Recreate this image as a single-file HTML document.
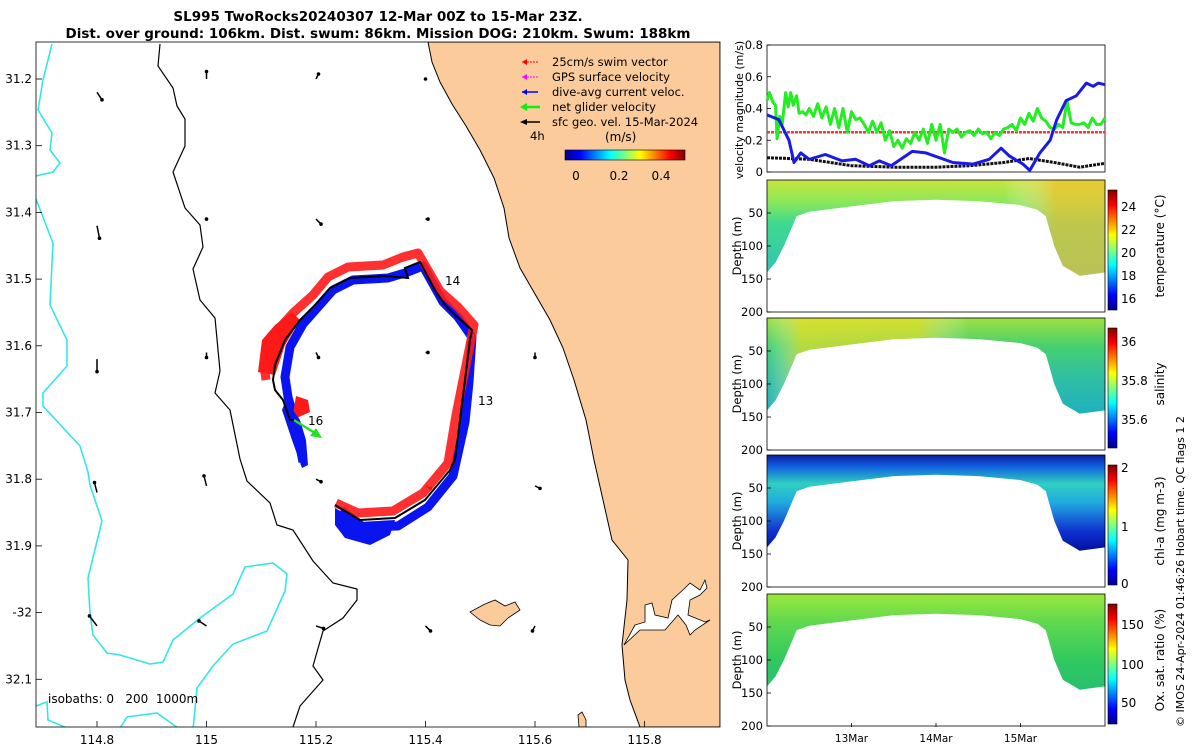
<!DOCTYPE html>
<html><head><meta charset="utf-8">
<style>
html,body{margin:0;padding:0;background:#fff;}
body{width:1200px;height:750px;overflow:hidden;font-family:"DejaVu Sans",sans-serif;}
svg text{font-family:"DejaVu Sans","Liberation Sans",sans-serif;}
</style></head>
<body>
<svg id="fig" width="1200" height="750" viewBox="0 0 1200 750" xmlns="http://www.w3.org/2000/svg">
<defs>
  <linearGradient id="jet" x1="0" y1="1" x2="0" y2="0">
    <stop offset="0" stop-color="#00008f"/><stop offset="0.125" stop-color="#0000ff"/>
    <stop offset="0.375" stop-color="#00ffff"/><stop offset="0.5" stop-color="#7fff7f"/>
    <stop offset="0.625" stop-color="#ffff00"/><stop offset="0.875" stop-color="#ff0000"/>
    <stop offset="1" stop-color="#800000"/>
  </linearGradient>
  <linearGradient id="jeth" x1="0" y1="0" x2="1" y2="0">
    <stop offset="0" stop-color="#00008f"/><stop offset="0.125" stop-color="#0000ff"/>
    <stop offset="0.375" stop-color="#00ffff"/><stop offset="0.5" stop-color="#7fff7f"/>
    <stop offset="0.625" stop-color="#ffff00"/><stop offset="0.875" stop-color="#ff0000"/>
    <stop offset="1" stop-color="#800000"/>
  </linearGradient>
  <linearGradient id="gT" x1="0" y1="0" x2="0" y2="1">
    <stop offset="0" stop-color="#c8e43c"/><stop offset="0.22" stop-color="#8ee85a"/>
    <stop offset="0.45" stop-color="#3fd98f"/><stop offset="1" stop-color="#2fc4b5"/>
  </linearGradient>
  <linearGradient id="gTh" x1="0" y1="0" x2="1" y2="0">
    <stop offset="0" stop-color="#ffffff" stop-opacity="0"/><stop offset="0.7" stop-color="#ffffff" stop-opacity="0"/>
    <stop offset="0.85" stop-color="#f5c030" stop-opacity="0.7"/><stop offset="1" stop-color="#f5c030" stop-opacity="0.7"/>
  </linearGradient>
  <linearGradient id="gS" x1="0" y1="0" x2="0" y2="1">
    <stop offset="0" stop-color="#9ee040"/><stop offset="0.3" stop-color="#45d070"/>
    <stop offset="0.6" stop-color="#30c0a0"/><stop offset="1" stop-color="#20b0c0"/>
  </linearGradient>
  <linearGradient id="gSh" x1="0" y1="0" x2="1" y2="0">
    <stop offset="0" stop-color="#fff" stop-opacity="0"/><stop offset="0.1" stop-color="#ffe020" stop-opacity="0.6"/>
    <stop offset="0.45" stop-color="#ffe020" stop-opacity="0.55"/><stop offset="0.6" stop-color="#fff" stop-opacity="0"/>
  </linearGradient>
  <linearGradient id="gC" x1="0" y1="0" x2="0" y2="1">
    <stop offset="0" stop-color="#0a1ea0"/><stop offset="0.12" stop-color="#1060e0"/>
    <stop offset="0.3" stop-color="#30d0c0"/><stop offset="0.5" stop-color="#20a8e0"/>
    <stop offset="0.8" stop-color="#1030d0"/><stop offset="1" stop-color="#0010a0"/>
  </linearGradient>
  <linearGradient id="gO" x1="0" y1="0" x2="0" y2="1">
    <stop offset="0" stop-color="#9ae83a"/><stop offset="0.3" stop-color="#60d850"/>
    <stop offset="0.7" stop-color="#30c860"/><stop offset="1" stop-color="#28c070"/>
  </linearGradient>
</defs>

<!-- Title -->
<text x="378" y="21" text-anchor="middle" font-size="13.5" font-weight="bold">SL995 TwoRocks20240307 12-Mar 00Z to 15-Mar 23Z.</text>
<text x="378" y="38" text-anchor="middle" font-size="13.5" font-weight="bold">Dist. over ground: 106km. Dist. swum: 86km. Mission DOG: 210km. Swum: 188km</text>

<!-- MAP -->
<g id="map">
  <clipPath id="mapclip"><rect x="36" y="42" width="684" height="685"/></clipPath>
  <g clip-path="url(#mapclip)">
    <path fill="#fbcb9b" stroke="#000" stroke-width="1"
      d="M428,42 L432,62 L440,82 L452,104 L466,126 L480,150 L494,178 L504,208 L509,238 L520,268 L535,294 L550,320 L563,348 L574,380 L586,420 L594,460 L603,500 L612,540 L628,560 L627,600 L622,645 L625,680 L630,700 L640,727 L720,727 L720,42 Z"/>
    <path fill="#fff" stroke="#000" stroke-width="0.8"
      d="M624,645 L635,625 L645,622 L645,605 L652,603 L655,615 L668,618 L672,600 L685,588 L690,583 L700,590 L705,580 L707,588 L700,595 L690,600 L688,615 L705,622 L710,620 L695,630 L690,635 L686,625 L678,615 L665,630 L652,630 L640,630 Z"/>
    <path fill="#fbcb9b" stroke="#000" stroke-width="0.8"
      d="M470,612 L485,604 L495,600 L505,606 L515,602 L520,610 L508,618 L500,626 L490,625 L480,620 Z"/>
    <path fill="#fbcb9b" stroke="#000" stroke-width="0.8" d="M578,715 L582,712 L586,720 L586,727 L579,727 Z"/>
    <path fill="none" stroke="#35e6e6" stroke-width="1.6"
      d="M52,44 L43,80 L38,110 L52,133 L50,150 L60,163 L53,172 L36,176 M36,199 L53,243 L50,305 L67,340 L67,366 L43,393 L43,406 L80,446 L88,472 L90,485 L102,521 L88,578 L90,613 L93,635 L107,653 L120,655 L150,664 L163,662 L173,640 L200,618 L233,594 L245,567 L273,563 L287,574 L285,591 L267,631 L233,644 L213,666 L197,688 L193,730 M36,706 L47,702 L48,720 L67,728 M120,728 L127,717 L157,713 L178,728"/>
    <path fill="none" stroke="#000" stroke-width="1.2"
      d="M160,44 L158,66 L173,88 L177,106 L185,119 L185,146 L173,172 L185,208 L200,225 L203,247 L193,269 L200,300 L215,318 L220,371 L215,393 L230,410 L240,459 L247,481 L270,503 L277,525 L293,530 L313,561 L333,583 L357,589 L357,600 L343,618 L323,631 L313,666 L323,680 L300,706 L292,730"/>
    <g id="gridArrows"></g>
    <path fill="none" stroke="#0a14f0" stroke-width="9" stroke-linejoin="round" transform="translate(3,2)"
      d="M338,508 L360,525 L395,524 L425,505 L450,474 L462,420 L466,380 L469,335 L455,315 L440,300 L420,264 L405,270 L385,276 L350,278 L330,288 L315,305 L300,322 L287,345 L282,375 L285,395 L292,420 L300,460"/>
    <path fill="none" stroke="#ff1a1a" stroke-width="9" stroke-opacity="0.9" stroke-linejoin="round" transform="translate(-2,-5)"
      d="M338,508 L360,518 L395,516 L425,498 L450,468 L458,420 L466,380 L476,330 L460,312 L442,296 L420,258 L405,262 L385,270 L350,272 L330,282 L315,300 L295,318 L275,340 L266,370 L268,385"/>
    <path fill="#ff1a1a" d="M258,372 L262,340 L275,325 L292,312 L300,320 L285,345 L275,375 Z"/>
    <path fill="#ff1a1a" d="M292,420 L296,396 L308,400 L310,412 Z"/>
    <path fill="#0a14f0" d="M286,400 L300,420 L306,440 L308,465 L302,468 L292,440 L282,410 Z"/>
    <path fill="#0a14f0" d="M335,508 L360,522 L395,520 L390,535 L370,545 L345,538 L335,525 Z"/>
    <path fill="none" stroke="#000" stroke-width="2"
      d="M335,505 L360,520 L395,518 L425,500 L450,470 L455,460 L460,420 L465,380 L470,340 L472,330 L455,315 L445,305 L435,290 L420,262 L405,268 L408,278 L385,276 L350,278 L330,288 L315,305 L300,320 L285,340 L275,365 L273,380 L275,390 L283,400 L290,420 L294,420"/>
    <line x1="294" y1="420" x2="318" y2="435" stroke="#22e022" stroke-width="2.5"/>
    <polygon points="322,438 310,436 316,428" fill="#22e022"/>
    <text x="445" y="285" font-size="12">14</text>
    <text x="478" y="405" font-size="12">13</text>
    <text x="308" y="425" font-size="12">16</text>
    <text x="48" y="703" font-size="12" xml:space="preserve">isobaths: 0   200  1000m</text>
  </g>
  <rect x="36" y="42" width="684" height="685" fill="none" stroke="#000" stroke-width="0.8"/>
  <g id="mapTicks"></g>

  <g font-size="11.5">
    <line x1="538" y1="62" x2="522" y2="62" stroke="#f00" stroke-width="1" stroke-dasharray="2 1"/><polygon points="522,62 527,59 527,65" fill="#f00"/>
    <text x="552" y="66">25cm/s swim vector</text>
    <line x1="538" y1="77" x2="522" y2="77" stroke="#f0f" stroke-width="1" stroke-dasharray="2 1"/><polygon points="522,77 527,74 527,80" fill="#f0f"/>
    <text x="552" y="81">GPS surface velocity</text>
    <line x1="538" y1="92" x2="522" y2="92" stroke="#00f" stroke-width="1.5"/><polygon points="522,92 527,89 527,95" fill="#00f"/>
    <text x="552" y="96">dive-avg current veloc.</text>
    <line x1="540" y1="107" x2="522" y2="107" stroke="#1e1" stroke-width="2.5"/><polygon points="520,107 527,103 527,111" fill="#1e1"/>
    <text x="552" y="111">net glider velocity</text>
    <line x1="540" y1="122" x2="522" y2="122" stroke="#000" stroke-width="1.5"/><polygon points="520,122 527,119 527,125" fill="#000"/>
    <text x="552" y="126">sfc geo. vel. 15-Mar-2024</text>
    <text x="530" y="140">4h</text>
    <text x="605" y="141" font-size="12">(m/s)</text>
    <rect x="565" y="150" width="120" height="10" fill="url(#jeth)" stroke="#000" stroke-width="0.6"/>
    <text x="576" y="180" text-anchor="middle" font-size="12">0</text>
    <text x="619" y="180" text-anchor="middle" font-size="12">0.2</text>
    <text x="661" y="180" text-anchor="middle" font-size="12">0.4</text>
  </g>
</g>

<g id="vel">
  <rect x="767" y="45" width="338" height="127" fill="none" stroke="#000" stroke-width="0.8"/>
  <g id="velTicks"></g>
  <g id="velLines"></g>
  <text transform="translate(743,110) rotate(-90)" text-anchor="middle" font-size="11">velocity magnitude (m/s)</text>
</g>

<g id="profiles"></g>

<text transform="translate(1184,727) rotate(-90)" font-size="11">© IMOS 24-Apr-2024 01:46:26 Hobart time. QC flags 1  2</text>
</svg>

<script>
const blueT = [0,0.14,0.26,0.32,0.40,0.50,0.69,0.89,1.05,1.21,1.33,1.47,1.72,1.88,2.20,2.44,2.63,2.77,2.87,3.03,3.11,3.23,3.35,3.43,3.54,3.66,3.78,3.86,3.92,4.0];
const blueV = [0.36,0.33,0.2,0.06,0.12,0.08,0.11,0.07,0.08,0.04,0.07,0.04,0.13,0.12,0.06,0.05,0.08,0.15,0.1,0.05,0.01,0.12,0.2,0.33,0.45,0.48,0.56,0.54,0.56,0.55];
const blackT = [0,0.5,1.0,1.5,2.0,2.4,2.8,3.1,3.4,3.7,4.0];
const blackV = [0.09,0.08,0.04,0.03,0.03,0.04,0.06,0.085,0.06,0.03,0.055];
const greenT = [0,0.03,0.07,0.1,0.12,0.15,0.18,0.22,0.25,0.28,0.31,0.35,0.38,0.42,0.46,0.5,0.55,0.6,0.65,0.7,0.75,0.8,0.85,0.9,0.95,1.0,1.05,1.1,1.15,1.2,1.25,1.3,1.35,1.4,1.45,1.5,1.55,1.6,1.65,1.7,1.75,1.8,1.85,1.9,1.95,2.0,2.05,2.1,2.15,2.2,2.25,2.3,2.35,2.4,2.45,2.5,2.55,2.6,2.65,2.7,2.75,2.8,2.85,2.9,2.95,3.0,3.05,3.1,3.15,3.2,3.25,3.3,3.35,3.4,3.45,3.5,3.55,3.6,3.65,3.7,3.75,3.8,3.85,3.9,3.95,4.0];
const greenV = [0.45,0.5,0.44,0.42,0.21,0.35,0.3,0.5,0.41,0.5,0.42,0.48,0.37,0.38,0.36,0.4,0.35,0.43,0.34,0.41,0.3,0.4,0.28,0.4,0.25,0.38,0.33,0.34,0.3,0.25,0.32,0.25,0.31,0.2,0.26,0.16,0.2,0.15,0.21,0.18,0.25,0.2,0.27,0.18,0.3,0.2,0.3,0.12,0.27,0.25,0.27,0.22,0.25,0.26,0.23,0.27,0.24,0.25,0.21,0.25,0.23,0.27,0.28,0.3,0.26,0.34,0.3,0.37,0.32,0.4,0.34,0.32,0.28,0.27,0.3,0.28,0.45,0.31,0.3,0.3,0.31,0.28,0.34,0.3,0.3,0.34];
const redV = [0.25];
const velTicks = [0,0.2,0.4,0.6,0.8];
const velTickLabels = ["0","0.2","0.4","0.6","0.8"];
const dateTicks = [1,2,3];
const dateLabels = ["13Mar","14Mar","15Mar"];
const bottomT = [0,0.1,0.2,0.3,0.35,0.5,1,1.5,2,2.5,3,3.2,3.3,3.4,3.5,3.7,4];
const bottomD = [140,125,100,70,55,48,40,32,30,32,38,45,55,100,130,145,140];
const depthTicks = [50,100,150,200];
const lonTicks = [114.8,115,115.2,115.4,115.6,115.8];
const lonLabels = ["114.8","115","115.2","115.4","115.6","115.8"];
const latTicks = [31.2,31.3,31.4,31.5,31.6,31.7,31.8,31.9,32,32.1];
const latLabels = ["31.2","31.3","31.4","31.5","31.6","31.7","31.8","31.9","-32","32.1"];
const arrLon = [114.8,115,115.2,115.4,114.8,115,115.2,115.4,114.8,115,115.2,115.4,115.6,114.8,115,115.2,115.4,115.6,114.8,115,115.2,115.4,115.6];
const arrLat = [31.22,31.2,31.2,31.2,31.42,31.41,31.41,31.41,31.62,31.61,31.61,31.61,31.61,31.82,31.81,31.8,31.81,31.81,32.02,32.02,32.02,32.02,32.02];
const arrU = [0.02,0,0.01,0,0.01,0,0.02,0.01,0,0,0.01,0.01,0,-0.01,-0.01,0.02,0.02,0.02,-0.03,-0.03,0.03,0.02,-0.01];
const arrV = [0.03,-0.03,-0.02,0,0.05,0,0.02,0,0.05,0.02,0.02,0,0.02,-0.04,-0.04,0.01,0.01,0.01,-0.04,-0.02,0.01,0.02,0.02];

const NS = "http://www.w3.org/2000/svg";
function mk(tag, attrs, parent){const e=document.createElementNS(NS,tag);for(const k in attrs)e.setAttribute(k,attrs[k]);parent.appendChild(e);return e;}

const vx = t => 767 + t/4*338;
const vy = v => 172 - v/0.8*127;
const lx = lon => 97 + (lon-114.8)/0.2*109.5;
const ly = lat => 79 + (lat-31.2)/0.1*66.7;

const mt = document.getElementById('mapTicks');
lonTicks.forEach((L,i)=>{
  const x = lx(L);
  const tk = mk('line',{x1:x,y1:727,x2:x,y2:721,stroke:'#000','stroke-width':0.8},mt);
  
  
  const t = mk('text',{x:x,y:744,'text-anchor':'middle','font-size':12},mt);
  t.textContent = lonLabels[i];
  
  
});
latTicks.forEach((L,i)=>{
  const y = ly(L);
  const tk = mk('line',{x1:36,y1:y,x2:42,y2:y,stroke:'#000','stroke-width':0.8},mt);
  
  
  const t = mk('text',{x:32,y:y+4,'text-anchor':'end','font-size':12},mt);
  t.textContent = latLabels[i];
  
  
});
const ga = document.getElementById('gridArrows');
arrLon.forEach((L,i)=>{
  const x = lx(L), y = ly(arrLat[i]);
  const x2 = x + arrU[i]*250, y2 = y + arrV[i]*250;
  const a = mk('line',{x1:x,y1:y,x2:x2,y2:y2,stroke:'#000','stroke-width':1.5},ga);
  
  
  mk('circle',{cx:x2,cy:y2,r:1.8,fill:'#000'},ga);
});

const vt = document.getElementById('velTicks');
velTicks.forEach((v,i)=>{
  const y = vy(v);
  mk('line',{x1:767,y1:y,x2:771,y2:y,stroke:'#000','stroke-width':0.8},vt);
  const t = mk('text',{x:763,y:y+4,'text-anchor':'end','font-size':11.5},vt);
  t.textContent = velTickLabels[i];
  
  
});
const vl = document.getElementById('velLines');
function poly(T,V,color,w,name,dash){
  const pts = T.map((t,i)=>vx(t).toFixed(1)+','+vy(V[i]).toFixed(1)).join(' ');
  const p = mk('polyline',{points:pts,fill:'none',stroke:color,'stroke-width':w,'stroke-linejoin':'round'},vl);
  if(dash) p.setAttribute('stroke-dasharray',dash);
  
  
}
poly([0,4],[redV[0],redV[0]],'#f33',2.5,'swim-speed-line','3 1');
poly(blackT,blackV,'#111',3,'geostrophic-speed-line','3 1');
poly(greenT,greenV,'#22ee22',3,'glider-speed-line');
poly(blueT,blueV,'#1a1ae6',3,'current-speed-line');

const panels = [
  {top:180, fill:'url(#gT)', over:'url(#gTh)', name:'temperature', label:'temperature (°C)', cb:[{v:'24',y:207},{v:'22',y:230},{v:'20',y:253},{v:'18',y:276},{v:'16',y:299}]},
  {top:318, fill:'url(#gS)', over:'url(#gSh)', name:'salinity', label:'salinity', cb:[{v:'36',y:342},{v:'35.8',y:381},{v:'35.6',y:420}]},
  {top:455, fill:'url(#gC)', over:null, name:'chlorophyll', label:'chl-a (mg m-3)', cb:[{v:'2',y:468},{v:'1',y:527},{v:'0',y:584}]},
  {top:594, fill:'url(#gO)', over:null, name:'oxygen-saturation', label:'Ox. sat. ratio (%)', cb:[{v:'150',y:625},{v:'100',y:665},{v:'50',y:703}]}
];
const pg = document.getElementById('profiles');
const H = 132;
panels.forEach(P=>{
  const dy = d => P.top + d/200*H;
  const g = mk('g',{},pg);
  
  
  let d = 'M'+vx(0)+','+dy(0)+' ';
  bottomT.forEach((t,i)=>{ d += 'L'+vx(t).toFixed(1)+','+dy(bottomD[i]).toFixed(1)+' '; });
  d += 'L'+vx(4)+','+dy(0)+' Z';
  mk('path',{d:d,fill:P.fill},g);
  if(P.over) mk('path',{d:d,fill:P.over},g);
  mk('rect',{x:767,y:P.top,width:338,height:H,fill:'none',stroke:'#000','stroke-width':0.8},g);
  depthTicks.forEach(v=>{
    const y = dy(v);
    mk('line',{x1:767,y1:y,x2:771,y2:y,stroke:'#000','stroke-width':0.8},g);
    const t = mk('text',{x:763,y:y+4,'text-anchor':'end','font-size':11.5},g);
    t.textContent = v;
  });
  const yl = mk('text',{transform:'translate(741,'+(P.top+66)+') rotate(-90)','text-anchor':'middle','font-size':11.5},g);
  yl.textContent = 'Depth (m)';
  const cb = mk('rect',{x:1108,y:P.top+10,width:9,height:H-12,fill:'url(#jet)',stroke:'#000','stroke-width':0.6},g);
  
  
  P.cb.forEach(c=>{
    const t = mk('text',{x:1121,y:c.y+4,'font-size':12},g);
    t.textContent = c.v;
  });
  const cl = mk('text',{transform:'translate(1164,'+(P.top+66)+') rotate(-90)','text-anchor':'middle','font-size':12},g);
  cl.textContent = P.label;
});
dateTicks.forEach((d,i)=>{
  const x = vx(d);
  mk('line',{x1:x,y1:727,x2:x,y2:723,stroke:'#000','stroke-width':0.8},pg);
  const t = mk('text',{x:x,y:742,'text-anchor':'middle','font-size':10.5},pg);
  t.textContent = dateLabels[i];
  
  
});
</script>
</body></html>
